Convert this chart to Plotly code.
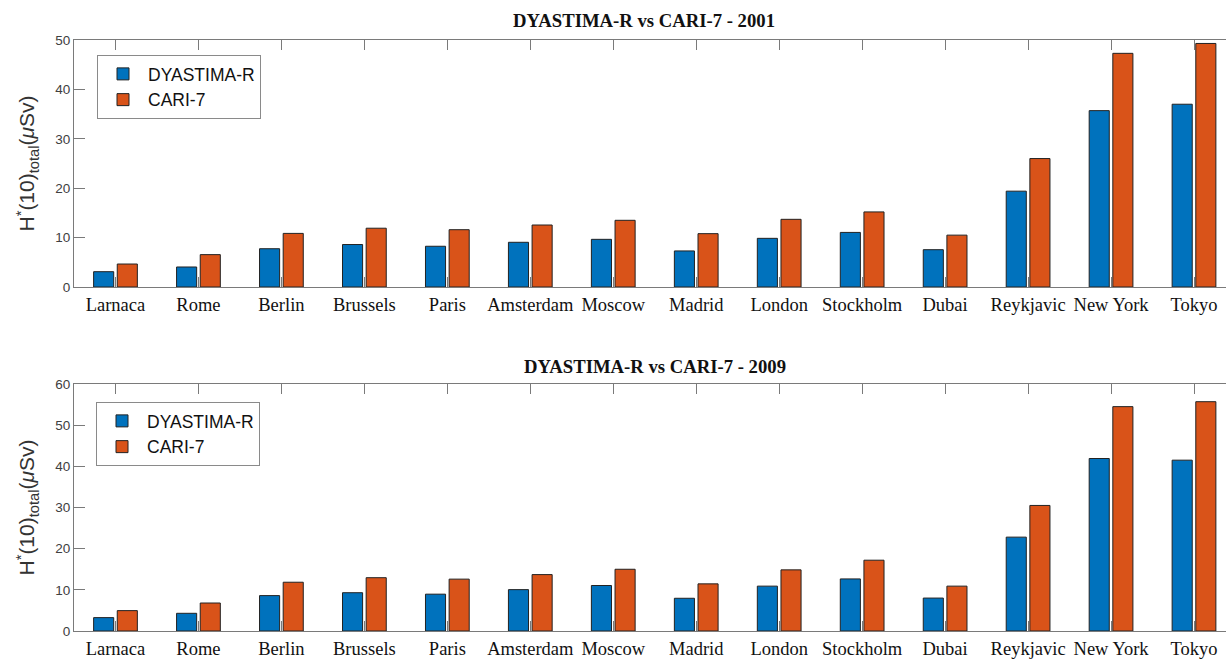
import plotly.graph_objects as go

cities = ["Larnaca", "Rome", "Berlin", "Brussels", "Paris", "Amsterdam", "Moscow",
          "Madrid", "London", "Stockholm", "Dubai", "Reykjavic", "New York", "Tokyo"]

dyastima_2001 = [3.1, 4.05, 7.75, 8.6, 8.25, 9.05, 9.65, 7.3, 9.85, 11.05, 7.55, 19.4, 35.7, 37.0]
cari7_2001 = [4.65, 6.55, 10.85, 11.9, 11.6, 12.55, 13.5, 10.8, 13.7, 15.2, 10.5, 26.0, 47.3, 49.3]

dyastima_2009 = [3.25, 4.3, 8.6, 9.3, 8.95, 10.05, 11.05, 7.95, 10.9, 12.65, 8.0, 22.8, 41.9, 41.5]
cari7_2009 = [4.95, 6.8, 11.85, 12.95, 12.6, 13.7, 15.0, 11.45, 14.85, 17.2, 10.9, 30.5, 54.5, 55.7]

titles = ["DYASTIMA-R vs CARI-7 - 2001", "DYASTIMA-R vs CARI-7 - 2009"]
series_names = ["DYASTIMA-R", "CARI-7"]
y_ticks_top = [0, 10, 20, 30, 40, 50]
y_ticks_bottom = [0, 10, 20, 30, 40, 50, 60]

BLUE = "#0072BD"
ORANGE = "#D95319"
AXC = "#7a7a7a"
SANS = "Liberation Sans, Arial, sans-serif"
SERIF = "Liberation Serif, Times New Roman, serif"

x_idx = list(range(1, len(cities) + 1))

fig = go.Figure()
data_sets = [(dyastima_2001, cari7_2001, "x", "y", "legend"),
             (dyastima_2009, cari7_2009, "x2", "y2", "legend2")]
for d_vals, c_vals, xa, ya, lg in data_sets:
    for name, vals, col in [(series_names[0], d_vals, BLUE), (series_names[1], c_vals, ORANGE)]:
        fig.add_trace(go.Bar(
            x=x_idx, y=vals, name=name, xaxis=xa, yaxis=ya, legend=lg,
            marker=dict(color=col, line=dict(color="#222222", width=1)),
        ))

W, H = 1226, 661
left_px = 74
right_end = 14 + (W - 1194) / 83.0

def xax(domain_y_anchor, standoff):
    return dict(
        domain=[left_px / W, 1.0], range=[0.5, right_end],
        tickmode="array", tickvals=x_idx, ticktext=cities,
        ticks="inside", ticklen=10, tickcolor=AXC, tickwidth=1,
        showline=True, linecolor=AXC, linewidth=1, mirror="ticks",
        showgrid=False, zeroline=False, anchor=domain_y_anchor,
        tickfont=dict(family=SERIF, size=18.5, color="#111111"),
        ticklabelstandoff=standoff, automargin=False,
    )

ytitle = "H<sup>*</sup>(10)<sub>total</sub>(<i>μ</i>Sv)"

def yax(domain, rng, ticks, x_anchor):
    return dict(
        domain=domain, range=rng, tickmode="array", tickvals=ticks,
        ticks="inside", ticklen=11, tickcolor=AXC, tickwidth=1,
        showline=True, linecolor=AXC, linewidth=1, mirror=False,
        showgrid=False, zeroline=False, anchor=x_anchor, automargin=False,
        tickfont=dict(family=SANS, size=13.5, color="#404040"),
        title=dict(text=ytitle, font=dict(family=SANS, size=21, color="#333333"), standoff=14),
    )

top_dom = [1 - 287 / H, 1 - 40 / H]
bot_dom = [1 - 631 / H, 1 - 384 / H]

legend_style = dict(
    bordercolor="#8a8a8a", borderwidth=1, bgcolor="white",
    font=dict(family=SANS, size=17.5, color="#111111"),
    xanchor="left", yanchor="top", tracegroupgap=0, itemwidth=40,
)

fig.update_layout(
    width=W, height=H, autosize=False,
    margin=dict(l=0, r=0, t=0, b=0, autoexpand=False),
    paper_bgcolor="white", plot_bgcolor="white",
    barmode="group", bargap=0.43, bargroupgap=0.15,
    xaxis=xax("y", 1), yaxis=yax(top_dom, [0, 50], y_ticks_top, "x"),
    xaxis2=xax("y2", 1), yaxis2=yax(bot_dom, [0, 60], y_ticks_bottom, "x2"),
    legend=dict(x=97 / W, y=1 - 55 / H, **legend_style),
    legend2=dict(x=96 / W, y=1 - 402 / H, **legend_style),
    annotations=[
        dict(text="<b>" + titles[0] + "</b>", x=644 / W, y=1 - 21 / H, xref="paper", yref="paper",
             xanchor="center", yanchor="middle", showarrow=False,
             font=dict(family=SERIF, size=18.7, color="#111111")),
        dict(text="<b>" + titles[1] + "</b>", x=655 / W, y=1 - 366.5 / H, xref="paper", yref="paper",
             xanchor="center", yanchor="middle", showarrow=False,
             font=dict(family=SERIF, size=18.7, color="#111111")),
    ],
)

fig.write_html("out.html", config={"displayModeBar": False},
               post_script="document.body.style.margin='0px';document.body.style.overflow='hidden';")
